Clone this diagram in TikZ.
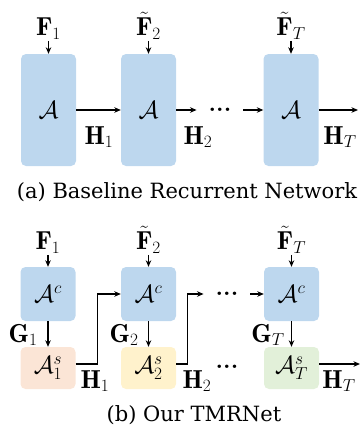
\documentclass[tikz,border=0pt]{standalone}
\usepackage{amsmath,amssymb}
\usepackage{fontspec}
\newfontfamily\capfamily{DejaVu Serif}
\usepackage{xcolor}
\usepackage{tikz}
\usetikzlibrary{positioning,calc,arrows.meta}
\definecolor{cellblue}{RGB}{189,215,238}
\definecolor{cellpink}{RGB}{251,229,214}
\definecolor{cellyellow}{RGB}{255,242,204}
\definecolor{cellgreen}{RGB}{226,240,217}
\tikzset{
  figfont/.style={font=\fontsize{26}{30}\selectfont},
  capfont/.style={font=\capfamily\fontsize{21}{25}\selectfont},
  cellbox/.style={rounded corners=5pt, minimum width=55pt, inner sep=0pt},
  tallcell/.style={cellbox, fill=cellblue, minimum height=112pt},
  ccell/.style={cellbox, fill=cellblue, minimum height=54pt},
  scell/.style={cellbox, minimum height=42pt},
  inlbl/.style={inner sep=1pt},
  dotsnode/.style={inner xsep=12pt, inner ysep=2pt, font=\fontsize{24}{26}\bfseries\selectfont},
  figarrow/.style={-{Stealth[length=6.5pt,width=5.5pt]}, line width=1.1pt},
}

\begin{document}
\begin{tikzpicture}[x=1pt, y=-1pt, figfont]
\useasboundingbox (0,0) rectangle (363,429);

	% (a) cells
	\node[tallcell] (A1) at (48.5,110) {$\mathcal{A}$};
	\node[tallcell] (A2) at (148.5,110) {$\mathcal{A}$};
	\node[tallcell] (AT) at (291,110) {$\mathcal{A}$};
	\node[dotsnode] (dA) at (220,110) {...};
	\coordinate (outA) at (358,110);

	% (a) inputs
	\node[inlbl, above=13pt of A1] (Fa1) {$\mathbf{F}_1$};
	\node[inlbl, above=13pt of A2] (Fa2) {$\tilde{\mathbf{F}}_2$};
	\node[inlbl, above=13pt of AT] (FaT) {$\tilde{\mathbf{F}}_T$};
	\draw[figarrow] (Fa1) -- (A1);
	\draw[figarrow] (Fa2) -- (A2);
	\draw[figarrow] (FaT) -- (AT);

	% (a) hidden states
	\draw[figarrow] (A1) -- (A2);
	\draw[figarrow] (A2) -- (A2 -| dA.west);
	\draw[figarrow] (dA.east |- AT) -- (AT);
	\draw[figarrow] (AT) -- (outA);
	\node (Ha1) at (99,137) {$\mathbf{H}_1$};
	\node (Ha2) at (198,137) {$\mathbf{H}_2$};
	\node (HaT) at (340,137) {$\mathbf{H}_T$};

	\node[capfont] (capA) at (187,192) {(a) Baseline Recurrent Network};

	% (b) cells
	\node[ccell] (C1) at (48,294) {$\mathcal{A}^c$};
	\node[ccell] (C2) at (148.5,294) {$\mathcal{A}^c$};
	\node[ccell] (CT) at (291.5,294) {$\mathcal{A}^c$};
	\node[scell, fill=cellpink] (S1) at (48,368) {$\mathcal{A}^s_1$};
	\node[scell, fill=cellyellow] (S2) at (148.5,368) {$\mathcal{A}^s_2$};
	\node[scell, fill=cellgreen] (ST) at (291.5,368) {$\mathcal{A}^s_T$};
	\node[dotsnode] (dB) at (227,294) {...};
	\node[dotsnode] (dC) at (227,367) {...};
	\coordinate (outB) at (360,364);

	% (b) inputs
	\node[inlbl, above=12pt of C1] (Fb1) {$\mathbf{F}_1$};
	\node[inlbl, above=12pt of C2] (Fb2) {$\tilde{\mathbf{F}}_2$};
	\node[inlbl, above=12pt of CT] (FbT) {$\tilde{\mathbf{F}}_T$};
	\draw[figarrow] (Fb1) -- (C1);
	\draw[figarrow] (Fb2) -- (C2);
	\draw[figarrow] (FbT) -- (CT);

	% (b) common to specific
	\draw[figarrow] (C1) -- (S1);
	\draw[figarrow] (C2) -- (S2);
	\draw[figarrow] (CT) -- (ST);
	\node (G1) at (23,335) {$\mathbf{G}_1$};
	\node (G2) at (124,335) {$\mathbf{G}_2$};
	\node (GT) at (268,335) {$\mathbf{G}_T$};

	% (b) hidden states
	\draw[figarrow] ([yshift=4pt]S1.east) -- ++(22,0) |- (C2.west);
	\draw[figarrow] ([yshift=4pt]S2.east) -- ++(11,0) |- (dB.west);
	\draw[figarrow] (dB.east) -- (CT);
	\draw[figarrow] ([yshift=4pt]ST.east) -- (outB);
	\node (Hb1) at (95,381) {$\mathbf{H}_1$};
	\node (Hb2) at (197,381) {$\mathbf{H}_2$};
	\node (HbT) at (339,381) {$\mathbf{H}_T$};

	\node[capfont] (capB) at (194,415) {(b) Our TMRNet};
\end{tikzpicture}
\end{document}
